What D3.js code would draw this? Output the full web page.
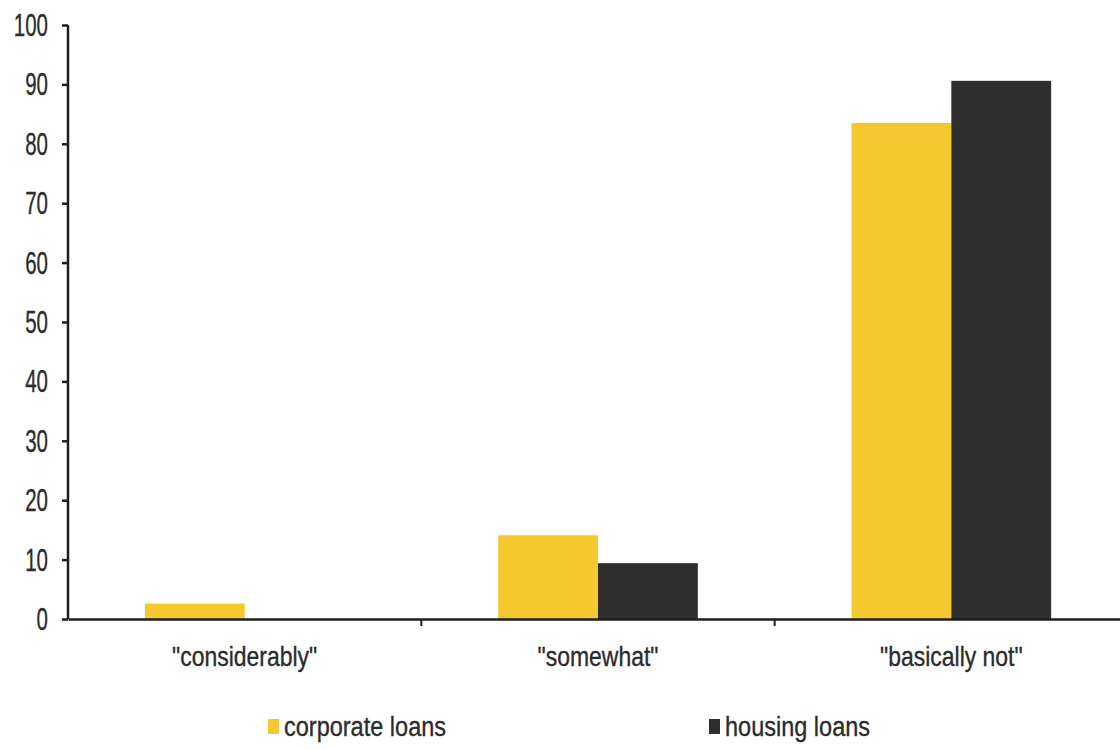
<!DOCTYPE html>
<html>
<head>
<meta charset="utf-8">
<script src="https://cdn.jsdelivr.net/npm/d3@7"></script>
<style>
  body { margin: 0; background: #fff; }
  text { font-family: "Liberation Sans", Arial, sans-serif; fill: #2b2b2b; stroke: #2b2b2b; stroke-width: 0.35px; }
</style>
</head>
<body>
<div id="chart"></div>
<script>
var categories = ['"considerably"', '"somewhat"', '"basically not"'];
var seriesNames = ["corporate loans", "housing loans"];
var corporate = [2.6, 14.1, 83.5];
var housing = [0, 9.4, 90.6];
var yTicks = [0, 10, 20, 30, 40, 50, 60, 70, 80, 90, 100];
var colors = ["#f5c830", "#2e2e2e"];

var width = 1120, height = 749;
var svg = d3.select("#chart").append("svg")
  .attr("width", width)
  .attr("height", height);

var x = d3.scaleBand()
  .domain(categories)
  .range([68, 1128])
  .paddingInner(0)
  .paddingOuter(0);

var xs = d3.scaleBand()
  .domain(seriesNames)
  .range([0, x.bandwidth()])
  .paddingInner(0)
  .paddingOuter(0.77);

var y = d3.scaleLinear()
  .domain([0, 100])
  .range([619, 25]);

// bars
var rows = categories.map(function(c, i) {
  return { cat: c, vals: [corporate[i], housing[i]] };
});

var groups = svg.append("g")
  .selectAll("g")
  .data(rows)
  .enter().append("g")
  .attr("transform", function(d) { return "translate(" + x(d.cat) + ",0)"; });

groups.selectAll("rect")
  .data(function(d) { return d.vals.map(function(v, j) { return { s: seriesNames[j], v: v, j: j }; }); })
  .enter().append("rect")
  .attr("x", function(d) { return xs(d.s); })
  .attr("width", xs.bandwidth())
  .attr("y", function(d) { return y(d.v); })
  .attr("height", function(d) { return y(0) - y(d.v); })
  .attr("fill", function(d) { return colors[d.j]; });

// y axis (labels squeezed to look like the narrow original font)
var yScaleX = 0.66;
var yAxis = svg.append("g")
  .attr("transform", "translate(68,0)")
  .call(d3.axisLeft(y).tickValues(yTicks).tickSize(6).tickPadding(0));
yAxis.select(".domain").attr("stroke", "#1e1e1e").attr("stroke-width", 2.5)
  .attr("d", "M0," + y(100) + "V" + y(0));
yAxis.selectAll(".tick line").attr("stroke", "#1e1e1e").attr("stroke-width", 2.5);
yAxis.selectAll(".tick text")
  .style("font-size", "31px")
  .attr("x", -20 / yScaleX)
  .attr("dy", "0.34em")
  .attr("transform", "scale(" + yScaleX + ",1)");

// x axis
var xAxis = svg.append("g")
  .attr("transform", "translate(0," + y(0) + ")")
  .call(d3.axisBottom(x).tickSize(0).tickPadding(27));
xAxis.select(".domain").attr("stroke", "#1e1e1e").attr("stroke-width", 2.5);
xAxis.selectAll(".tick text")
  .style("font-size", "28px")
  .attr("transform", "scale(0.82,1)");

// category separator ticks
svg.append("g")
  .selectAll("line")
  .data(categories.slice(1))
  .enter().append("line")
  .attr("x1", function(d) { return x(d); })
  .attr("x2", function(d) { return x(d); })
  .attr("y1", y(0))
  .attr("y2", y(0) + 7)
  .attr("stroke", "#1e1e1e")
  .attr("stroke-width", 2);

// legend
var legendX = [268, 709];
var legend = svg.append("g")
  .selectAll("g")
  .data(seriesNames)
  .enter().append("g")
  .attr("transform", function(d, i) { return "translate(" + legendX[i] + ",719)"; });

legend.append("rect")
  .attr("x", 0).attr("y", 0)
  .attr("width", 11).attr("height", 15)
  .attr("fill", function(d, i) { return colors[i]; });

legend.append("text")
  .attr("x", 16 / 0.84)
  .attr("y", 17)
  .style("font-size", "28px")
  .attr("transform", "scale(0.84,1)")
  .text(function(d) { return d; });
</script>
</body>
</html>
